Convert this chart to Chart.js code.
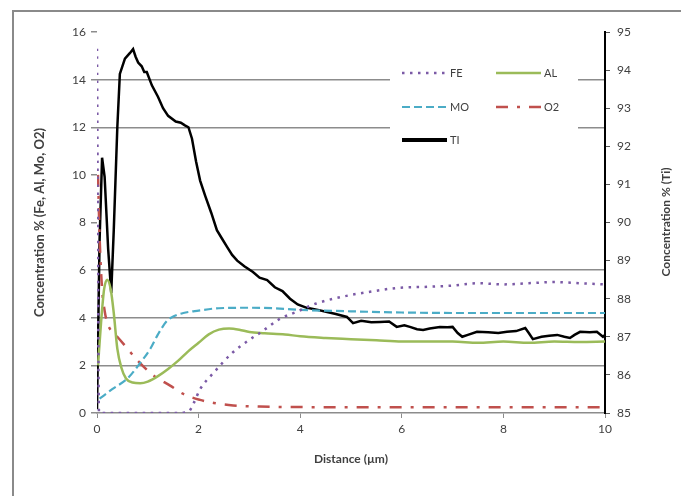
<!DOCTYPE html>
<html>
<head>
<meta charset="utf-8">
<script src="https://cdn.jsdelivr.net/npm/chart.js@4/dist/chart.umd.min.js"></script>
<style>
  html, body { margin: 0; padding: 0; background: #fff; overflow: hidden; }
  #wrap { width: 681px; height: 496px; position: relative; }
</style>
</head>
<body>
<div id="wrap"><canvas id="chart" width="681" height="496"></canvas></div>
<script>
// distances (µm) and concentrations
const feX = [0, 0.04, 0.5, 1.0, 1.5, 1.8, 1.9, 2.03, 2.3, 2.65, 2.95, 3.24, 3.6, 3.93, 4.32, 4.98, 5.4, 5.9, 6.5, 7.0, 7.5, 8.0, 8.5, 9.0, 9.5, 10.0];
const feY = [15.3, 0, 0, 0, 0, 0.05, 0.4, 1.0, 1.7, 2.5, 3.0, 3.41, 3.95, 4.25, 4.6, 4.95, 5.1, 5.25, 5.3, 5.35, 5.45, 5.4, 5.45, 5.5, 5.45, 5.4];

const alX = [0.02, 0.08, 0.14, 0.2, 0.27, 0.33, 0.4, 0.48, 0.57, 0.7, 0.85, 1.0, 1.2, 1.4, 1.6, 1.8, 2.0, 2.2, 2.4, 2.6, 2.8, 3.0, 3.3, 3.7, 4.0, 4.5, 5.0, 5.5, 6.0, 7.0, 7.5, 8.0, 8.5, 9.0, 9.5, 10.0];
const alY = [2.0, 3.8, 5.2, 5.6, 5.2, 4.2, 2.7, 1.9, 1.45, 1.28, 1.25, 1.32, 1.55, 1.85, 2.2, 2.6, 2.95, 3.3, 3.5, 3.55, 3.5, 3.4, 3.35, 3.3, 3.22, 3.15, 3.1, 3.05, 3.0, 3.0, 2.95, 3.0, 2.95, 3.0, 2.98, 3.0];

const moX = [0.05, 0.3, 0.6, 0.85, 1.05, 1.2, 1.37, 1.5, 1.7, 2.0, 2.4, 3.0, 3.5, 4.0, 5.0, 6.0, 7.0, 8.0, 9.0, 10.0];
const moY = [0.6, 1.0, 1.45, 2.1, 2.7, 3.3, 3.85, 4.05, 4.2, 4.3, 4.4, 4.42, 4.4, 4.33, 4.27, 4.22, 4.2, 4.2, 4.2, 4.2];

const o2X = [0.02, 0.05, 0.1, 0.15, 0.2, 0.3, 0.4, 0.6, 0.8, 1.1, 1.44, 1.7, 2.03, 2.3, 2.68, 3.2, 4.0, 5.0, 6.0, 7.0, 8.0, 9.0, 10.0];
const o2Y = [10.0, 7.5, 5.2, 4.3, 3.8, 3.4, 3.2, 2.7, 2.2, 1.6, 1.15, 0.8, 0.55, 0.42, 0.32, 0.27, 0.25, 0.24, 0.24, 0.24, 0.24, 0.24, 0.24];

const tiX = [0, 0.05, 0.1, 0.15, 0.22, 0.28, 0.33, 0.4, 0.45, 0.55, 0.65, 0.71, 0.76, 0.81, 0.88, 0.93, 0.98, 1.08, 1.2, 1.3, 1.4, 1.55, 1.65, 1.73, 1.8, 1.87, 1.95, 2.03, 2.13, 2.25, 2.36, 2.45, 2.56, 2.66, 2.76, 2.9, 3.07, 3.2, 3.35, 3.5, 3.65, 3.8, 3.95, 4.13, 4.3, 4.53, 4.7, 4.92, 5.04, 5.2, 5.4, 5.57, 5.75, 5.9, 6.05, 6.16, 6.3, 6.42, 6.55, 6.75, 6.9, 7.0, 7.1, 7.19, 7.3, 7.48, 7.7, 7.9, 8.07, 8.25, 8.43, 8.5, 8.58, 8.75, 8.9, 9.06, 9.2, 9.31, 9.4, 9.51, 9.7, 9.84, 9.96, 10.0];
const tiY = [85.1, 89.5, 91.7, 91.2, 89.3, 88.15, 89.8, 92.5, 93.9, 94.3, 94.45, 94.55, 94.35, 94.2, 94.1, 93.95, 93.95, 93.6, 93.3, 93.0, 92.8, 92.65, 92.62, 92.55, 92.5, 92.2, 91.6, 91.1, 90.7, 90.25, 89.8, 89.6, 89.36, 89.15, 89.0, 88.85, 88.7, 88.55, 88.49, 88.3, 88.2, 88.0, 87.85, 87.76, 87.72, 87.65, 87.6, 87.52, 87.36, 87.42, 87.38, 87.39, 87.4, 87.26, 87.3, 87.26, 87.2, 87.18, 87.22, 87.26, 87.25, 87.26, 87.1, 87.0, 87.05, 87.13, 87.12, 87.1, 87.13, 87.15, 87.23, 87.1, 86.94, 87.0, 87.03, 87.05, 87.0, 86.97, 87.05, 87.13, 87.12, 87.13, 87.0, 87.05];

const leftTicksWithGrid = [2, 4, 6, 12, 14];

const FONT = "Lato, 'Open Sans', sans-serif";
const GRID = '#8c8c8c';
const TEXT = '#404040';

function pts(xs, ys) {
    return xs.map((x, i) => ({ x: x, y: ys[i] }));
}

const datasets = [
    { label: 'FE', data: pts(feX, feY), borderColor: '#7b5aa6', borderWidth: 2.5, borderDash: [2.5, 5.5], yAxisID: 'y', cubicInterpolationMode: 'monotone' },
    { label: 'AL', data: pts(alX, alY), borderColor: '#9bbb59', borderWidth: 2.5, yAxisID: 'y', cubicInterpolationMode: 'monotone' },
    { label: 'MO', data: pts(moX, moY), borderColor: '#4bacc6', borderWidth: 2.2, borderDash: [8, 4], yAxisID: 'y', cubicInterpolationMode: 'monotone' },
    { label: 'O2', data: pts(o2X, o2Y), borderColor: '#c0504d', borderWidth: 2.5, borderDash: [12, 9, 3, 9], yAxisID: 'y', cubicInterpolationMode: 'monotone' },
    { label: 'TI', data: pts(tiX, tiY), borderColor: '#000000', borderWidth: 2.5, yAxisID: 'y2' }
];

// frame, legend box and the right axis title
const decor = {
    id: 'decor',
    beforeDraw(chart) {
        const ctx = chart.ctx;
        ctx.save();
        ctx.fillStyle = '#fff';
        ctx.fillRect(0, 0, chart.width, chart.height);
        ctx.strokeStyle = '#8a8a8a';
        ctx.lineWidth = 2;
        ctx.strokeRect(13, 11, 700, 500);
        ctx.restore();
    },
    afterDatasetsDraw(chart) {
        const ctx = chart.ctx;
        ctx.save();
        ctx.fillStyle = '#fff';
        ctx.fillRect(390, 56, 188, 98);

        const slots = [
            { i: 0, x: 402, y: 73 },
            { i: 1, x: 496, y: 73 },
            { i: 2, x: 402, y: 107 },
            { i: 3, x: 496, y: 107 },
            { i: 4, x: 402, y: 140 }
        ];
        ctx.font = '11px ' + FONT;
        ctx.textBaseline = 'middle';
        slots.forEach(s => {
            const ds = chart.data.datasets[s.i];
            ctx.beginPath();
            ctx.strokeStyle = ds.borderColor;
            ctx.lineWidth = s.i === 4 ? 4 : ds.borderWidth;
            ctx.setLineDash(ds.borderDash || []);
            ctx.moveTo(s.x, s.y);
            ctx.lineTo(s.x + 45, s.y);
            ctx.stroke();
            ctx.setLineDash([]);
            ctx.fillStyle = TEXT;
            ctx.textAlign = 'left';
            ctx.fillText(ds.label, s.x + 48, s.y);
        });

        ctx.translate(666, 222);
        ctx.rotate(-Math.PI / 2);
        ctx.font = 'bold 12px ' + FONT;
        ctx.textAlign = 'center';
        ctx.fillStyle = TEXT;
        ctx.fillText('Concentration % (Ti)', 0, 0);
        ctx.restore();
    }
};

new Chart(document.getElementById('chart'), {
    type: 'line',
    data: { datasets: datasets },
    plugins: [decor],
    options: {
        responsive: false,
        animation: false,
        layout: { padding: { left: 12, top: 32, right: 0, bottom: 0 } },
        elements: { point: { radius: 0 }, line: { tension: 0 } },
        plugins: {
            legend: { display: false },
            tooltip: { enabled: false }
        },
        scales: {
            x: {
                type: 'linear',
                min: 0,
                max: 10,
                afterFit: (s) => { s.height = 83; },
                border: { display: true, color: GRID, width: 1.5 },
                grid: { drawOnChartArea: false, tickLength: 5, color: GRID },
                ticks: { stepSize: 2, padding: 4, color: TEXT, font: { family: FONT, size: 12 } },
                title: { display: true, text: 'Distance (µm)', color: TEXT, font: { family: FONT, size: 12, weight: 'bold' }, padding: { top: 0, bottom: 30 } }
            },
            y: {
                position: 'left',
                min: 0,
                max: 16,
                afterFit: (s) => { s.width = 85; },
                border: { display: false },
                grid: {
                    tickLength: 6,
                    lineWidth: 1.5,
                    color: (c) => leftTicksWithGrid.includes(c.tick && c.tick.value) ? GRID : 'rgba(0,0,0,0)',
                    tickColor: GRID
                },
                ticks: { stepSize: 2, padding: 5, color: TEXT, font: { family: FONT, size: 12 } },
                title: { display: true, text: 'Concentration % (Fe, Al, Mo, O2)', color: TEXT, font: { family: FONT, size: 13, weight: 'bold' }, padding: { top: 20, bottom: 0 } }
            },
            y2: {
                position: 'right',
                min: 85,
                max: 95,
                afterFit: (s) => { s.width = 76; },
                border: { display: true, color: '#000', width: 2 },
                grid: { drawOnChartArea: false, tickLength: 5, color: '#555' },
                ticks: { stepSize: 1, padding: 7, color: TEXT, font: { family: FONT, size: 12 } }
            }
        }
    }
});
</script>
</body>
</html>
